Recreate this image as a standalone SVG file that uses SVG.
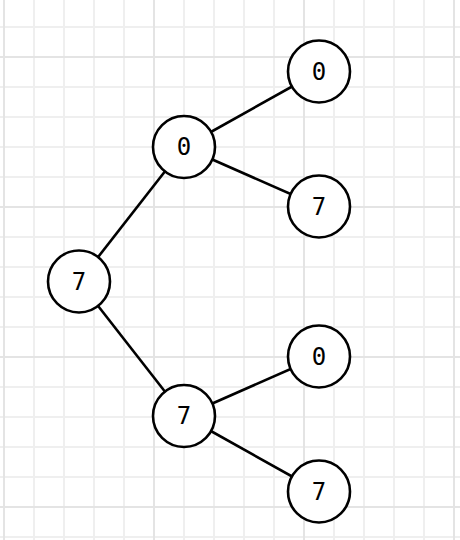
<svg xmlns="http://www.w3.org/2000/svg" width="460" height="540" viewBox="0 0 460 540">
<defs>
<style>
.minor{stroke:#efefef;stroke-width:2}
.major{stroke:#e4e4e4;stroke-width:2}
.edge{stroke:#000;stroke-width:2.6;fill:none}
.node circle{fill:#fff;stroke:#000;stroke-width:2.6}
.node text{font-family:"DejaVu Sans Mono","Liberation Mono",monospace;font-size:24px;fill:#000;text-anchor:middle;dominant-baseline:central}
</style>
</defs>
<rect width="460" height="540" fill="#fff"/>
<g id="grid">
<path class="minor" d="M34 0V540M64 0V540M94 0V540M124 0V540M184 0V540M214 0V540M244 0V540M274 0V540M334 0V540M364 0V540M394 0V540M424 0V540"/>
<path class="minor" d="M0 27H460M0 87H460M0 117H460M0 147H460M0 177H460M0 237H460M0 267H460M0 297H460M0 327H460M0 387H460M0 417H460M0 447H460M0 477H460M0 537H460"/>
<path class="major" d="M4 0V540M154 0V540M304 0V540M454 0V540M0 57H460M0 207H460M0 357H460M0 507H460"/>
</g>
<g id="connectors">
<line class="edge" x1="79" y1="281.5" x2="184" y2="147"/>
<line class="edge" x1="79" y1="281.5" x2="184" y2="416"/>
<line class="edge" x1="184" y1="147" x2="319" y2="71.5"/>
<line class="edge" x1="184" y1="147" x2="319" y2="206.5"/>
<line class="edge" x1="184" y1="416" x2="319" y2="356.5"/>
<line class="edge" x1="184" y1="416" x2="319" y2="491.5"/>
</g>
<g id="n-root" class="node"><circle cx="79" cy="281.5" r="31"/><text x="79" y="281.5">7</text></g>
<g id="n-a" class="node"><circle cx="184" cy="147" r="31"/><text x="184" y="147">0</text></g>
<g id="n-b" class="node"><circle cx="184" cy="416" r="31"/><text x="184" y="416">7</text></g>
<g id="n-a0" class="node"><circle cx="319" cy="71.5" r="31"/><text x="319" y="71.5">0</text></g>
<g id="n-a7" class="node"><circle cx="319" cy="206.5" r="31"/><text x="319" y="206.5">7</text></g>
<g id="n-b0" class="node"><circle cx="319" cy="356.5" r="31"/><text x="319" y="356.5">0</text></g>
<g id="n-b7" class="node"><circle cx="319" cy="491.5" r="31"/><text x="319" y="491.5">7</text></g>
</svg>
